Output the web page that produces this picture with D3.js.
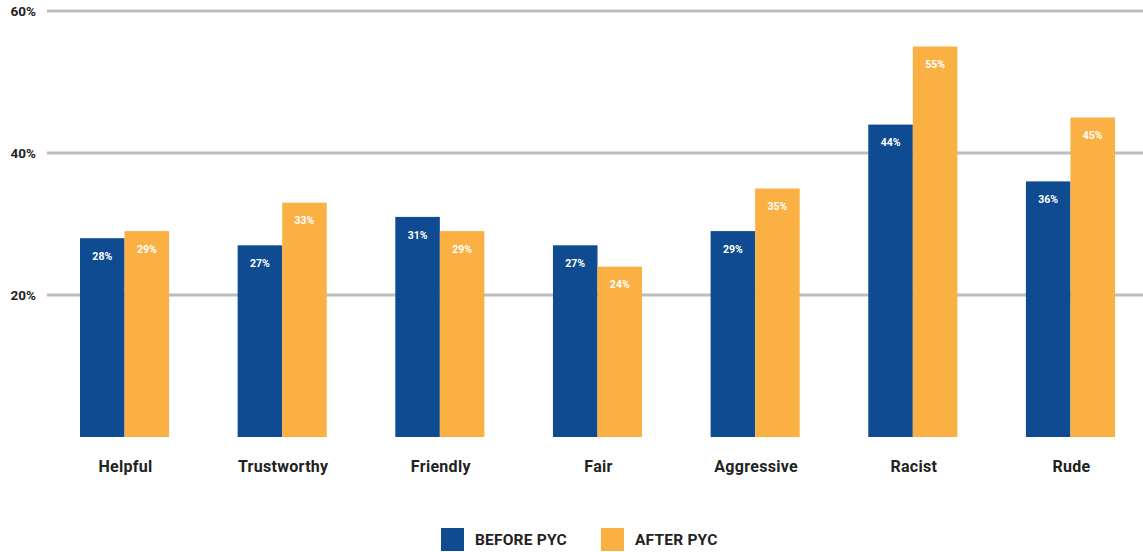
<!DOCTYPE html>
<html><head><meta charset="utf-8">
<script src="https://cdn.jsdelivr.net/npm/d3@7"></script>
<style>body{margin:0;background:#fff;}svg{display:block;font-family:Roboto,"DejaVu Sans",sans-serif;}</style>
</head><body>
<svg id="c" width="1143" height="552"></svg>
<script>
const categories = ["Helpful","Trustworthy","Friendly","Fair","Aggressive","Racist","Rude"];
const before = [28,27,31,27,29,44,36];
const after = [29,33,29,24,35,55,45];
const seriesNames = ["BEFORE PYC","AFTER PYC"];
const yTicks = [20,40,60];
const colors = ["#0f4b91","#fab042"];

const svg = d3.select("#c");
const y = d3.scaleLinear().domain([0,60]).range([437,11]);
const x = d3.scaleBand().domain(categories).range([80,1115]).paddingInner(0.435).paddingOuter(0);
const xs = d3.scaleBand().domain([0,1]).range([0,x.bandwidth()]);

// grid
svg.append("g").selectAll("line").data(yTicks).join("line")
  .attr("x1",47).attr("x2",1143).attr("y1",d=>y(d)).attr("y2",d=>y(d))
  .attr("stroke","#bdbdbd").attr("stroke-width",3);
svg.append("g").selectAll("text").data(yTicks).join("text")
  .attr("x",36).attr("y",d=>y(d)).attr("dy","0.35em").attr("text-anchor","end")
  .attr("font-size",13.5).attr("font-weight","bold").attr("fill","#222").text(d=>d+"%");

const data = categories.map((c,i)=>({c, v:[before[i],after[i]]}));
const g = svg.append("g").selectAll("g").data(data).join("g").attr("transform",d=>`translate(${x(d.c)},0)`);
g.selectAll("rect").data(d=>d.v.map((v,i)=>({v,i}))).join("rect")
  .attr("x",d=>xs(d.i)).attr("width",xs.bandwidth())
  .attr("y",d=>y(d.v)).attr("height",d=>y(0)-y(d.v)).attr("fill",d=>colors[d.i]);
g.selectAll("text.v").data(d=>d.v.map((v,i)=>({v,i}))).join("text").attr("class","v")
  .attr("x",d=>xs(d.i)+xs.bandwidth()/2).attr("y",d=>y(d.v)+18).attr("dy","0.35em")
  .attr("text-anchor","middle").attr("font-size",10.5).attr("font-weight","bold").attr("fill","#fff")
  .text(d=>d.v+"%");

svg.append("g").selectAll("text").data(categories).join("text")
  .attr("x",d=>x(d)+x.bandwidth()/2+1).attr("y",466).attr("dy","0.35em").attr("text-anchor","middle")
  .attr("font-size",16).attr("font-weight","bold").attr("letter-spacing",0.3).attr("fill","#222").text(d=>d);

// legend
const legX = [441,601];
const lg = svg.append("g").selectAll("g").data(seriesNames).join("g").attr("transform",(d,i)=>`translate(${legX[i]},528)`);
lg.append("rect").attr("width",23).attr("height",23).attr("fill",(d,i)=>colors[i]);
lg.append("text").attr("x",34).attr("y",12).attr("dy","0.35em").attr("font-size",15.5).attr("font-weight","bold").attr("letter-spacing",0.2).attr("fill","#222").text(d=>d);
</script>
</body></html>
